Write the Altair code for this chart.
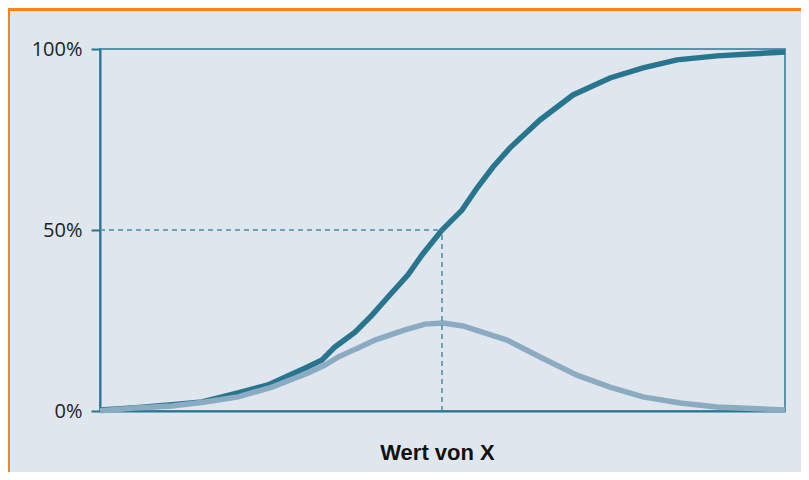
import altair as alt
import pandas as pd

# Cumulative curve (dark) – x in plot units (0..685), y in percent
cdf_x = [0, 36, 72, 102, 138, 168, 208, 222, 235, 255, 272, 288, 308, 322, 342,
         362, 377, 393, 410, 440, 473, 510, 543, 577, 617, 650, 685]
cdf_y = [0.3, 0.9, 1.7, 2.5, 5.0, 7.2, 12.2, 14.1, 17.7, 21.8, 26.5, 31.5, 37.6, 43.1, 50.0,
         55.5, 61.6, 67.4, 72.7, 80.4, 87.3, 92.0, 94.8, 97.0, 98.1, 98.6, 99.2]

# Density curve (light)
pdf_x = [0, 35, 72, 105, 138, 172, 208, 225, 238, 258, 275, 305, 325, 343, 363,
         407, 440, 477, 510, 543, 580, 617, 685]
pdf_y = [0.1, 0.8, 1.4, 2.5, 3.9, 6.6, 10.5, 12.7, 14.9, 17.4, 19.6, 22.4, 24.0, 24.3, 23.5,
         19.6, 14.9, 9.9, 6.6, 3.9, 2.2, 1.1, 0.3]

median_x = 342
median_y = 50
y_ticks = [0, 50, 100]
x_title = "Wert von X"

BG = "#dfe6ed"
DARK = "#27758f"
LIGHT = "#8aabc2"
FRAME = "#5b94aa"
DASH = "#4a8ca6"
ORANGE = "#f7841f"

cdf = pd.DataFrame({"x": cdf_x, "y": cdf_y})
pdf = pd.DataFrame({"x": pdf_x, "y": pdf_y})
guides = pd.DataFrame({
    "x": [0, median_x], "x2": [median_x, median_x],
    "y": [median_y, 0], "y2": [median_y, median_y],
})
dummy = pd.DataFrame({"d": [0]})

xs = alt.Scale(domain=[0, 685], nice=False, zero=False)
ys = alt.Scale(domain=[0, 100], nice=False)

xaxis = alt.Axis(labels=False, ticks=False, grid=False, domainColor=DARK, domainWidth=2,
                 title=x_title, titleFontSize=22, titleFont="Liberation Sans",
                 titleFontWeight="bold", titleColor="#111111",
                 titleX=337, titleY=48, titleBaseline="alphabetic", titleAlign="center")
yaxis = alt.Axis(values=y_ticks, labelExpr="datum.value + '%'", tickSize=9, tickWidth=2,
                 tickColor=DARK, domainColor=DARK, domainWidth=2, labelFontSize=20,
                 labelFont="Open Sans", labelColor="#222222",
                 labelPadding=9, grid=False, title="")

X = alt.X("x:Q", scale=xs, axis=xaxis)
Y = alt.Y("y:Q", scale=ys, axis=yaxis)

dark = alt.Chart(cdf).mark_line(color=DARK, strokeWidth=5.5).encode(x=X, y=Y)
light = alt.Chart(pdf).mark_line(color=LIGHT, strokeWidth=5.5).encode(x=X, y=Y)
dashes = alt.Chart(guides).mark_rule(color=DASH, strokeWidth=1.5, strokeDash=[5, 4]).encode(
    x=X, x2="x2:Q", y=Y, y2="y2:Q")

left_strip = alt.Chart(dummy).mark_rule(color=ORANGE, strokeWidth=2).encode(
    x=alt.value(-91), y=alt.value(-41), y2=alt.value(423))
top_strip = alt.Chart(dummy).mark_rule(color=ORANGE, strokeWidth=3).encode(
    x=alt.value(-92), x2=alt.value(701), y=alt.value(-39.5))

chart = alt.layer(dark, light, dashes, left_strip, top_strip).properties(
    width=685, height=362, background=BG,
    padding={"left": 92, "top": 41, "right": 16, "bottom": 61},
    autosize=alt.AutoSizeParams(type="none"),
).configure_view(stroke=FRAME, strokeWidth=2)

chart.save("out.html", embed_options={"renderer": "svg", "actions": False})
